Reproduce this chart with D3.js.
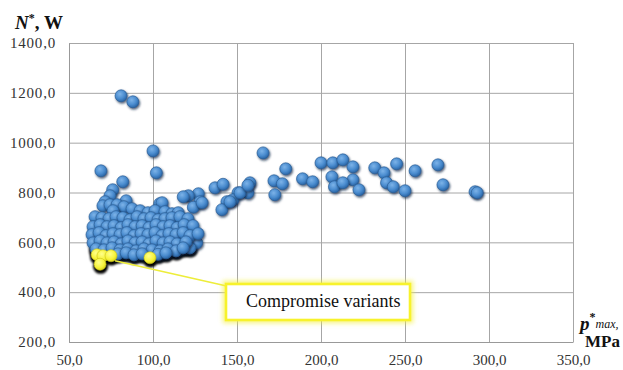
<!DOCTYPE html>
<html>
<head>
<meta charset="utf-8">
<script src="https://cdn.jsdelivr.net/npm/d3@7/dist/d3.min.js"></script>
<style>
  html, body { margin: 0; padding: 0; background: #fff; }
  svg { display: block; }
  svg text { font-family: "Liberation Serif", "Tinos", "Times New Roman", "DejaVu Serif", serif !important; }
</style>
</head>
<body>
<svg id="chart" width="623" height="370"></svg>
<script>
// ---- data ----
const xTicks = [50, 100, 150, 200, 250, 300, 350];
const yTicks = [200, 400, 600, 800, 1000, 1200, 1400];

// all design variants [p*max (MPa), N* (W)]
const variants = [
  // scattered / upper points
  [81, 1188], [88, 1164], [100, 967], [69, 887], [102, 879], [82, 843], [76, 811],
  [74.4, 787], [71.5, 763], [84, 767], [104, 755], [105.4, 759],
  [165.5, 959], [179, 895], [200, 919], [207, 919], [213, 931], [219, 903],
  [206.5, 863], [208, 823], [219, 851], [222.6, 811], [213, 839], [189, 855],
  [195, 843], [172, 847], [177, 835], [172.5, 791], [157.7, 839], [156.5, 799],
  [150.6, 799], [147.6, 771], [144, 763], [141, 731], [136.9, 819], [141.7, 833],
  [127, 795], [121, 787], [118, 783], [128, 763], [124, 741], [129.2, 759],
  [145.8, 763], [151.8, 799], [156.5, 829], [120, 691], [119, 663],
  [126, 598], [122, 578], [117.9, 610],
  [232, 899], [237.5, 879], [245, 915], [256, 887], [269.6, 911], [272.6, 831],
  [239, 839], [243, 823], [250, 807], [291.7, 803], [293, 799],
  // dense cluster
  [70.2, 747], [74.4, 751], [78.6, 751], [82.7, 743], [76.2, 727], [87.5, 735],
  [92.3, 727], [97, 719], [101.2, 727], [107.1, 723], [111.3, 715], [115, 719],
  [65.5, 703], [69.6, 699], [73.8, 695], [78, 703], [82.1, 699], [86.3, 691],
  [90.5, 703], [94.6, 695], [98.8, 699], [103, 691], [107.1, 695], [111.3, 699],
  [116, 703], [120.8, 695],
  [64.3, 663], [68.5, 671], [72.6, 663], [76.8, 667], [81, 659], [85.1, 671],
  [89.3, 663], [93.5, 667], [97.6, 659], [101.8, 671], [106, 663], [110.1, 667],
  [114.3, 659], [118.5, 671], [123.8, 667],
  [63.7, 631], [67.9, 639], [72, 627], [76.2, 635], [80.4, 631], [84.5, 639],
  [88.7, 627], [92.9, 635], [97, 631], [101.2, 639], [105.4, 627], [109.5, 635],
  [113.7, 631], [117.9, 639], [122, 627], [126.8, 635],
  [64.3, 598], [68.5, 606], [72.6, 598], [76.8, 602], [81, 594], [85.1, 606],
  [89.3, 598], [93.5, 602], [97.6, 594], [101.8, 606], [106, 598], [110.1, 602],
  [114.3, 594], [119.6, 602],
  [66.1, 574], [70.8, 570], [75.6, 578], [80.4, 570], [85.1, 574], [89.9, 566],
  [94.6, 574], [99.4, 570], [104.2, 566], [108.9, 574], [113.7, 566], [117.9, 578],
  [79.2, 554], [84, 558], [88.7, 550], [93.5, 554], [103, 552], [107.7, 558]
];

// compromise variants (highlighted)
const compromise = [[66.7, 550], [70.2, 546], [75, 546], [68.5, 512], [98.2, 538]];

const labelText = "Compromise variants";

// ---- layout ----
const SERIF = "'Liberation Serif', 'Tinos', 'Times New Roman', 'DejaVu Serif', serif";
const svg = d3.select("#chart");
const x = d3.scaleLinear().domain([50, 350]).range([69, 573]);
const y = d3.scaleLinear().domain([200, 1400]).range([342, 43]);
const fmt = d => d.toFixed(1).replace(".", ",");

const defs = svg.append("defs");
const grad = defs.append("radialGradient").attr("id", "blueGrad")
  .attr("cx", "40%").attr("cy", "35%").attr("r", "65%");
grad.append("stop").attr("offset", "0%").attr("stop-color", "#7db3e8");
grad.append("stop").attr("offset", "60%").attr("stop-color", "#4a8ccf");
grad.append("stop").attr("offset", "100%").attr("stop-color", "#2a65a6");

const ygrad = defs.append("radialGradient").attr("id", "yelGrad")
  .attr("cx", "40%").attr("cy", "35%").attr("r", "65%");
ygrad.append("stop").attr("offset", "0%").attr("stop-color", "#ffff8a");
ygrad.append("stop").attr("offset", "70%").attr("stop-color", "#f6f238");
ygrad.append("stop").attr("offset", "100%").attr("stop-color", "#d8d21a");

const shadow = defs.append("filter").attr("id", "shadow")
  .attr("x", "-50%").attr("y", "-50%").attr("width", "200%").attr("height", "200%");
shadow.append("feDropShadow").attr("dx", 1).attr("dy", 1.5).attr("stdDeviation", 0.9)
  .attr("flood-color", "#0a2440").attr("flood-opacity", 0.75);

const glow = defs.append("filter").attr("id", "glow")
  .attr("x", "-20%").attr("y", "-40%").attr("width", "140%").attr("height", "180%");
glow.append("feGaussianBlur").attr("stdDeviation", 2.2);

const blurSoft = defs.append("filter").attr("id", "soft")
  .attr("x", "-50%").attr("y", "-50%").attr("width", "200%").attr("height", "200%");
blurSoft.append("feGaussianBlur").attr("stdDeviation", 0.8);

// gridlines
const gridX = svg.append("g").attr("transform", "translate(0,342)")
  .call(d3.axisBottom(x).tickValues(xTicks).tickSize(-299).tickFormat(""));
gridX.select(".domain").remove();
gridX.selectAll("line").attr("stroke", "#a6a6a6").attr("stroke-width", 1);

const gridY = svg.append("g").attr("transform", "translate(69,0)")
  .call(d3.axisLeft(y).tickValues(yTicks).tickSize(-504).tickFormat(""));
gridY.select(".domain").remove();
gridY.selectAll("line").attr("stroke", "#a6a6a6").attr("stroke-width", 1);

// axes with labels
const xAxis = svg.append("g").attr("transform", "translate(0,342)")
  .call(d3.axisBottom(x).tickValues(xTicks).tickSize(0).tickPadding(12).tickFormat(fmt));
xAxis.attr("font-family", SERIF);
xAxis.select(".domain").attr("stroke", "#999");
xAxis.selectAll("text").attr("font-size", 15).attr("fill", "#333");

const yAxis = svg.append("g").attr("transform", "translate(69,0)")
  .call(d3.axisLeft(y).tickValues(yTicks).tickSize(0).tickPadding(13).tickFormat(fmt));
yAxis.attr("font-family", SERIF);
yAxis.select(".domain").attr("stroke", "#999");
yAxis.selectAll("text").attr("font-size", 15).attr("fill", "#333")
  .attr("letter-spacing", 0.8);

// black edge under the lower border of the cluster
const edgePts = variants.filter(d => d[1] < 580 && d[0] < 125).concat(compromise);
svg.append("g").selectAll("circle").data(edgePts).join("circle")
  .attr("cx", d => x(d[0]) + 0.5)
  .attr("cy", d => y(d[1]) + 2)
  .attr("r", 7.6)
  .attr("fill", "#000")
  .attr("filter", "url(#soft)");

// blue points
svg.append("g").selectAll("circle").data(variants).join("circle")
  .attr("cx", d => x(d[0]))
  .attr("cy", d => y(d[1]))
  .attr("r", 6)
  .attr("fill", "url(#blueGrad)")
  .attr("stroke", "#2b5f96")
  .attr("stroke-width", 0.7)
  .attr("filter", "url(#shadow)");

// leader line
const boxX = 226, boxY = 284, boxW = 184, boxH = 36;
svg.append("line")
  .attr("x1", x(compromise[2][0]) + 4).attr("y1", y(compromise[2][1]) + 5)
  .attr("x2", boxX + 5).attr("y2", boxY + 3)
  .attr("stroke", "#eded3a").attr("stroke-width", 1.6);

// yellow compromise points
svg.append("g").selectAll("circle").data(compromise).join("circle")
  .attr("cx", d => x(d[0]))
  .attr("cy", d => y(d[1]))
  .attr("r", 6)
  .attr("fill", "url(#yelGrad)")
  .attr("stroke", "#c9c31a")
  .attr("stroke-width", 0.6);

// annotation box
svg.append("rect").attr("x", boxX).attr("y", boxY).attr("width", boxW).attr("height", boxH)
  .attr("fill", "none").attr("stroke", "#f4f040").attr("stroke-width", 7)
  .attr("opacity", 0.6).attr("filter", "url(#glow)");
svg.append("rect").attr("x", boxX).attr("y", boxY).attr("width", boxW).attr("height", boxH)
  .attr("fill", "#fff").attr("stroke", "#f7f22c").attr("stroke-width", 2.6);
svg.append("text").attr("x", boxX + 20).attr("y", boxY + 23)
  .attr("font-family", SERIF)
  .attr("font-size", 18).attr("fill", "#111").text(labelText);

// axis titles
const yt = svg.append("text").attr("x", 15).attr("y", 29).attr("font-family", SERIF)
  .attr("font-size", 19).attr("font-weight", "bold").attr("fill", "#111");
yt.append("tspan").attr("font-style", "italic").text("N");
yt.append("tspan").attr("font-size", 12).attr("dy", -7).text("*");
yt.append("tspan").attr("dy", 7).text(", W");

const xt = svg.append("text").attr("x", 580).attr("y", 330).attr("font-family", SERIF)
  .attr("font-size", 19).attr("fill", "#111");
xt.append("tspan").attr("font-weight", "bold").attr("font-style", "italic").text("p");
xt.append("tspan").attr("font-size", 12).attr("font-weight", "bold").attr("dy", -9).text("*");
xt.append("tspan").attr("font-size", 12).attr("font-style", "italic").attr("dy", 7).text("max,");
svg.append("text").attr("x", 585).attr("y", 347).attr("font-family", SERIF)
  .attr("font-size", 17).attr("font-weight", "bold").attr("fill", "#111").text("MPa");
</script>
</body>
</html>
